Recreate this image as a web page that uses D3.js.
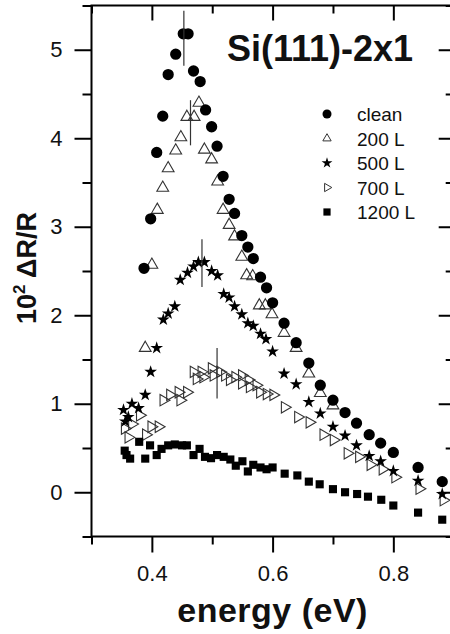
<!DOCTYPE html>
<html>
<head>
<meta charset="utf-8">
<script src="https://cdnjs.cloudflare.com/ajax/libs/d3/7.8.5/d3.min.js"></script>
<style>
  body { margin: 0; background: #fff; }
  svg { display: block; font-family: "Liberation Sans", Arial, sans-serif; }
</style>
</head>
<body>
<div id="chart"></div>
<script>
// series names (legend order)
const seriesNames = ["clean", "200 L", "500 L", "700 L", "1200 L"];

// clean surface
const cleanE = [0.387, 0.398, 0.408, 0.418, 0.427, 0.4395, 0.452, 0.460, 0.469, 0.480, 0.489, 0.499, 0.508, 0.518, 0.528, 0.537, 0.549, 0.559, 0.568, 0.580, 0.590, 0.600, 0.619, 0.639, 0.660, 0.679, 0.700, 0.720, 0.739, 0.760, 0.779, 0.800, 0.841, 0.881];
const cleanV = [2.53, 3.09, 3.84, 4.25, 4.72, 4.95, 5.18, 5.18, 4.76, 4.64, 4.32, 4.13, 3.91, 3.57, 3.31, 3.15, 2.90, 2.77, 2.64, 2.43, 2.31, 2.14, 1.91, 1.69, 1.46, 1.21, 1.04, 0.90, 0.78, 0.65, 0.555, 0.45, 0.28, 0.12];

// 200 L
const l200E = [0.389, 0.400, 0.409, 0.418, 0.427, 0.4395, 0.448, 0.458, 0.470, 0.478, 0.487, 0.499, 0.509, 0.518, 0.528, 0.537, 0.549, 0.557, 0.567, 0.578, 0.588, 0.599, 0.619, 0.639, 0.660, 0.679, 0.700];
const l200V = [1.63, 2.57, 3.19, 3.44, 3.66, 3.86, 4.01, 4.24, 4.24, 4.40, 3.87, 3.76, 3.51, 3.19, 3.02, 2.89, 2.66, 2.45, 2.44, 2.11, 2.11, 2.01, 1.80, 1.63, 1.34, 1.12, 0.98];

// 500 L
const l500E = [0.353, 0.356, 0.361, 0.367, 0.378, 0.389, 0.398, 0.408, 0.419, 0.427, 0.438, 0.447, 0.459, 0.469, 0.477, 0.487, 0.499, 0.509, 0.519, 0.528, 0.537, 0.549, 0.559, 0.568, 0.580, 0.589, 0.600, 0.619, 0.639, 0.660, 0.679, 0.700, 0.720, 0.739, 0.760, 0.779, 0.800, 0.841, 0.881];
const l500V = [0.93, 0.80, 0.85, 1.00, 0.95, 1.10, 1.36, 1.63, 1.95, 2.02, 2.10, 2.40, 2.48, 2.55, 2.60, 2.60, 2.50, 2.45, 2.24, 2.20, 2.10, 2.01, 1.91, 1.88, 1.79, 1.73, 1.59, 1.34, 1.22, 1.02, 0.89, 0.74, 0.64, 0.53, 0.41, 0.35, 0.24, 0.13, -0.02];

// 700 L
const l700E = [0.355, 0.361, 0.367, 0.380, 0.390, 0.399, 0.411, 0.419, 0.430, 0.444, 0.447, 0.458, 0.469, 0.474, 0.482, 0.485, 0.499, 0.502, 0.513, 0.521, 0.529, 0.538, 0.549, 0.549, 0.560, 0.562, 0.573, 0.579, 0.590, 0.601, 0.620, 0.642, 0.661, 0.684, 0.701, 0.724, 0.743, 0.762, 0.782, 0.803, 0.843, 0.883];
const l700V = [0.72, 0.62, 0.77, 0.87, 0.65, 0.74, 0.74, 1.04, 1.10, 1.13, 1.04, 1.13, 1.36, 1.28, 1.36, 1.30, 1.40, 1.32, 1.36, 1.32, 1.27, 1.30, 1.32, 1.23, 1.27, 1.19, 1.21, 1.13, 1.11, 1.10, 0.96, 0.85, 0.79, 0.65, 0.59, 0.44, 0.40, 0.31, 0.26, 0.17, 0.04, -0.09];

// 1200 L
const l1200E = [0.355, 0.358, 0.364, 0.379, 0.389, 0.397, 0.408, 0.416, 0.427, 0.438, 0.450, 0.458, 0.469, 0.479, 0.488, 0.498, 0.508, 0.519, 0.530, 0.539, 0.550, 0.559, 0.568, 0.580, 0.590, 0.600, 0.620, 0.641, 0.660, 0.678, 0.700, 0.720, 0.740, 0.758, 0.780, 0.800, 0.841, 0.881];
const l1200V = [0.47, 0.42, 0.38, 0.57, 0.38, 0.53, 0.42, 0.49, 0.53, 0.54, 0.53, 0.53, 0.42, 0.49, 0.40, 0.385, 0.42, 0.40, 0.37, 0.30, 0.35, 0.235, 0.31, 0.28, 0.26, 0.28, 0.21, 0.19, 0.12, 0.09, 0.035, 0.00, -0.02, -0.05, -0.085, -0.15, -0.23, -0.31];

// peak position markers (vertical bars)
const peakE = [0.453, 0.464, 0.483, 0.508];
const peakLo = [4.82, 3.92, 2.32, 1.06];
const peakHi = [5.44, 4.43, 2.86, 1.63];

// ticks
const xMajor = [0.4, 0.6, 0.8];
const xMinor = [0.3, 0.5, 0.7, 0.9];
const yMajor = [0, 1, 2, 3, 4, 5];
const yMinor = [-0.5, 0.5, 1.5, 2.5, 3.5, 4.5, 5.5];

const margin = { top: 5.5, left: 91.5 };
const width = 362.2;
const height = 531;

const svg = d3.select("#chart")
  .append("svg")
  .attr("width", 450)
  .attr("height", 634);

const g = svg.append("g")
  .attr("transform", "translate(" + margin.left + "," + margin.top + ")");

const x = d3.scaleLinear().domain([0.3, 0.9]).range([0, width]);
const y = d3.scaleLinear().domain([-0.5, 5.5]).range([height, 0]);

// axes: outer ticks on left/bottom, inner ticks on top/right
function styleAxis(sel) {
  sel.select(".domain").remove();
  sel.selectAll(".tick line").attr("stroke", "#000").attr("stroke-width", 2);
  sel.selectAll("text").attr("fill", "#111");
}

g.append("g")
  .attr("transform", "translate(0," + height + ")")
  .call(d3.axisBottom(x).tickValues(xMajor).tickSize(16).tickPadding(13).tickFormat(d3.format(".1f")))
  .call(styleAxis)
  .selectAll("text").style("font-size", "22px");

g.append("g")
  .attr("transform", "translate(0," + height + ")")
  .call(d3.axisBottom(x).tickValues(xMinor).tickSize(8).tickFormat(""))
  .call(styleAxis);

g.append("g")
  .call(d3.axisBottom(x).tickValues(xMajor).tickSize(15).tickFormat(""))
  .call(styleAxis);
g.append("g")
  .call(d3.axisBottom(x).tickValues(xMinor).tickSize(8).tickFormat(""))
  .call(styleAxis);

g.append("g")
  .call(d3.axisLeft(y).tickValues(yMajor).tickSize(17).tickPadding(12).tickFormat(d3.format("d")))
  .call(styleAxis)
  .selectAll("text").style("font-size", "22px");

g.append("g")
  .call(d3.axisLeft(y).tickValues(yMinor).tickSize(9).tickFormat(""))
  .call(styleAxis);

g.append("g")
  .attr("transform", "translate(" + width + ",0)")
  .call(d3.axisLeft(y).tickValues(yMajor).tickSize(15).tickFormat(""))
  .call(styleAxis);
g.append("g")
  .attr("transform", "translate(" + width + ",0)")
  .call(d3.axisLeft(y).tickValues(yMinor).tickSize(8).tickFormat(""))
  .call(styleAxis);

// frame
g.append("rect")
  .attr("width", width)
  .attr("height", height)
  .attr("fill", "none")
  .attr("stroke", "#000")
  .attr("stroke-width", 2);

// markers
const series = [
  { e: l700E, v: l700V, sym: d3.symbol().type(d3.symbolTriangle).size(56), rot: 90, fill: "none" },
  { e: l200E, v: l200V, sym: d3.symbol().type(d3.symbolTriangle).size(60), rot: 0, fill: "none" },
  { e: l1200E, v: l1200V, sym: d3.symbol().type(d3.symbolSquare).size(66), rot: 0, fill: "#000" },
  { e: l500E, v: l500V, sym: d3.symbol().type(d3.symbolStar).size(50), rot: 0, fill: "#000" },
  { e: cleanE, v: cleanV, sym: d3.symbol().type(d3.symbolCircle).size(100), rot: 0, fill: "#000" }
];

series.forEach(s => {
  const pts = s.e.map((d, i) => ({ e: d, v: s.v[i] }));
  g.append("g")
    .selectAll("path")
    .data(pts)
    .enter()
    .append("path")
    .attr("d", s.sym())
    .attr("transform", d => "translate(" + x(d.e) + "," + y(d.v) + ") rotate(" + s.rot + ")")
    .attr("fill", s.fill)
    .attr("stroke", s.fill === "none" ? "#333" : "none")
    .attr("stroke-width", 1.1);
});

// vertical peak bars
g.append("g")
  .selectAll("line")
  .data(peakE)
  .enter()
  .append("line")
  .attr("x1", d => x(d))
  .attr("x2", d => x(d))
  .attr("y1", (d, i) => y(peakHi[i]))
  .attr("y2", (d, i) => y(peakLo[i]))
  .attr("stroke", "#333")
  .attr("stroke-width", 1.2);

// title
svg.append("text")
  .attr("x", 227)
  .attr("y", 61)
  .style("font-size", "36px")
  .style("font-weight", "bold")
  .attr("fill", "#111")
  .text("Si(111)-2x1");

// legend
const legendSyms = [
  { sym: d3.symbol().type(d3.symbolCircle).size(64), rot: 0, fill: "#000" },
  { sym: d3.symbol().type(d3.symbolTriangle).size(30), rot: 0, fill: "none" },
  { sym: d3.symbol().type(d3.symbolStar).size(36), rot: 0, fill: "#000" },
  { sym: d3.symbol().type(d3.symbolTriangle).size(30), rot: 90, fill: "none" },
  { sym: d3.symbol().type(d3.symbolSquare).size(52), rot: 0, fill: "#000" }
];
const legend = svg.append("g").attr("transform", "translate(327,114)");
seriesNames.forEach((name, i) => {
  const row = legend.append("g").attr("transform", "translate(0," + (i * 24.5) + ")");
  row.append("path")
    .attr("d", legendSyms[i].sym())
    .attr("transform", "rotate(" + legendSyms[i].rot + ")")
    .attr("fill", legendSyms[i].fill)
    .attr("stroke", legendSyms[i].fill === "none" ? "#333" : "none")
    .attr("stroke-width", 1);
  row.append("text")
    .attr("x", 30)
    .attr("y", 7)
    .style("font-size", "19px")
    .attr("fill", "#111")
    .text(name);
});

// axis titles
svg.append("text")
  .attr("x", margin.left + width / 2)
  .attr("y", 622)
  .attr("text-anchor", "middle")
  .style("font-size", "34px")
  .style("font-weight", "bold")
  .style("letter-spacing", "0.5px")
  .attr("fill", "#111")
  .text("energy (eV)");

const yTitle = svg.append("text")
  .attr("transform", "translate(36,268) rotate(-90)")
  .attr("text-anchor", "middle")
  .style("font-size", "27px")
  .style("font-weight", "bold")
  .attr("fill", "#111");
yTitle.append("tspan").text("10");
yTitle.append("tspan").attr("dy", -11).style("font-size", "17px").text("2");
yTitle.append("tspan").attr("dy", 11).text(" \u0394R/R");
</script>
</body>
</html>
